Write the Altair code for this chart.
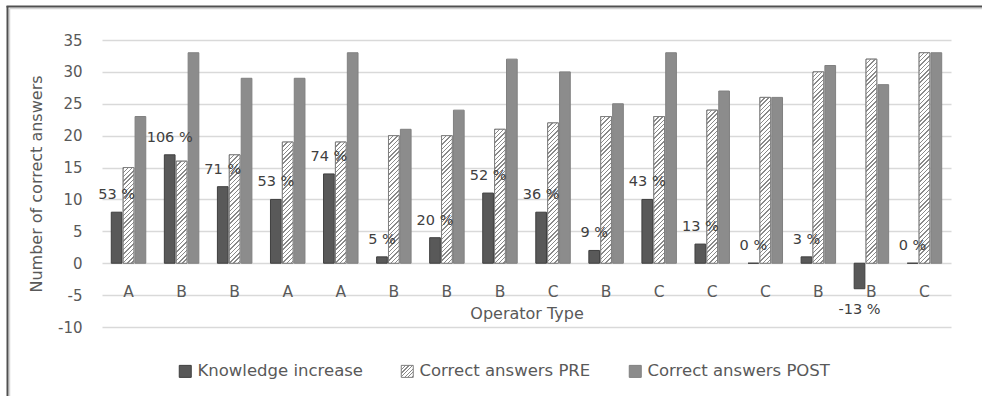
import json
import altair as alt
import pandas as pd

# Survey results per operator (one group of three bars per operator)
operator_types = ["A", "B", "B", "A", "A", "B", "B", "B", "C", "B", "C", "C", "C", "B", "B", "C"]
knowledge_increase = [8, 17, 12, 10, 14, 1, 4, 11, 8, 2, 10, 3, 0, 1, -4, 0]
answers_pre = [15, 16, 17, 19, 19, 20, 20, 21, 22, 23, 23, 24, 26, 30, 32, 33]
answers_post = [23, 33, 29, 29, 33, 21, 24, 32, 30, 25, 33, 27, 26, 31, 28, 33]
increase_pct = [53, 106, 71, 53, 74, 5, 20, 52, 36, 9, 43, 13, 0, 3, -13, 0]

SERIES = ["Knowledge increase", "Correct answers PRE", "Correct answers POST"]
FILLS = ["#595959", "#ffffff", "#8c8c8c"]
STROKES = ["#3f3f3f", "#7f7f7f", "#808080"]

FONT = "DejaVu Sans"
TEXT = "#595959"

# plot area geometry
W, H = 849, 287
Y_MIN, Y_MAX = -10, 35
PAD_INNER, PAD_OFF = 0.35, 0.1

n = len(operator_types)
step = W / n
group_w = step * (1 - PAD_INNER)
bar_w = group_w / (3 - PAD_OFF) * (1 - PAD_OFF)
px_per_unit = H / (Y_MAX - Y_MIN)


def hatch(w, h, period=4.3, line=1.4, ink="#8a8a8a", paper="#ffffff"):
    """Diagonal '/' hatching as a bounding-box linear gradient for a w x h rect."""
    span = w + h
    k = span / (w * w + h * h)
    stops = []
    i = 0
    while i * period < span:
        a = i * period / span
        b = min((i * period + line) / span, 1.0)
        c = min((i + 1) * period / span, 1.0)
        stops += [
            {"offset": round(a, 5), "color": ink},
            {"offset": round(b, 5), "color": ink},
            {"offset": round(b, 5), "color": paper},
            {"offset": round(c, 5), "color": paper},
        ]
        i += 1
    return {"gradient": "linear", "x1": 0, "y1": 0,
            "x2": round(w * k, 6), "y2": round(h * k, 6), "stops": stops}


rows = []
for i in range(n):
    for s, v in zip(SERIES, (knowledge_increase[i], answers_pre[i], answers_post[i])):
        rows.append({"idx": i, "series": s, "value": v})
bars_df = pd.DataFrame(rows)

pre_rows = [
    {"idx": i, "series": SERIES[1], "value": v, "grad": hatch(bar_w, v * px_per_unit)}
    for i, v in enumerate(answers_pre)
]

labels_df = pd.DataFrame({
    "idx": list(range(n)),
    "series": [SERIES[0]] * n,
    "value": knowledge_increase,
    "label": [f"{p} %" for p in increase_pct],
})

label_expr = "[" + ",".join(f"'{t}'" for t in operator_types) + "][datum.value]"

x_enc = alt.X(
    "idx:O",
    scale=alt.Scale(paddingInner=PAD_INNER, paddingOuter=PAD_INNER / 2),
    axis=alt.Axis(
        title="Operator Type", labelExpr=label_expr, labelAngle=0,
        domain=False, ticks=False, grid=False, offset=-43, labelPadding=0,
        labelFont=FONT, labelFontSize=15.5, labelColor=TEXT,
        titleFont=FONT, titleFontSize=16, titleColor=TEXT,
        titleFontWeight="normal", titlePadding=6,
    ),
)
xoff_enc = alt.XOffset("series:N", scale=alt.Scale(domain=SERIES, paddingInner=PAD_OFF))
y_enc = alt.Y(
    "value:Q",
    scale=alt.Scale(domain=[Y_MIN, Y_MAX], nice=False, zero=False),
    axis=alt.Axis(
        title="Number of correct answers", values=list(range(Y_MIN, Y_MAX + 1, 5)),
        labelExpr="'' + datum.value", labelOverlap=False,
        domain=False, ticks=False, grid=True, gridColor="#d9d9d9", gridWidth=1.5,
        labelPadding=20, labelFont=FONT, labelFontSize=15, labelColor=TEXT,
        titleFont=FONT, titleFontSize=16, titleColor=TEXT,
        titleFontWeight="normal", titlePadding=13,
    ),
)

# the PRE entry of the colour scale is a hatching gradient (used by the legend symbol)
legend_hatch = {"expr": json.dumps(hatch(12, 12, period=3.6, line=1.3))}

bars = alt.Chart(bars_df).mark_bar(strokeWidth=1).encode(
    x=x_enc,
    xOffset=xoff_enc,
    y=y_enc,
    fill=alt.Fill(
        "series:N",
        scale=alt.Scale(domain=SERIES, range=[FILLS[0], legend_hatch, FILLS[2]]),
        legend=alt.Legend(
            title=None, orient="none", direction="horizontal", columns=3,
            legendX=75, legendY=323, symbolType="square", symbolSize=144,
            symbolStrokeWidth=1, symbolStrokeColor="#595959", symbolOpacity=1,
            columnPadding=36, labelOffset=4,
            labelFont=FONT, labelFontSize=16.5, labelColor=TEXT, labelLimit=400,
        ),
    ),
    stroke=alt.Stroke("series:N", scale=alt.Scale(domain=SERIES, range=STROKES), legend=None),
)

pre_hatch = alt.Chart(alt.InlineData(values=pre_rows)).mark_bar(
    stroke=STROKES[1], strokeWidth=1
).encode(
    x=x_enc,
    xOffset=xoff_enc,
    y=y_enc,
    color=alt.Color("grad:N", scale=None, legend=None),
)

label_style = dict(font=FONT, fontSize=14.5, color="#404040", baseline="middle", align="center")
pos_labels = alt.Chart(labels_df).transform_filter("datum.value >= 0").mark_text(
    dy=-17, **label_style
).encode(x=x_enc, xOffset=xoff_enc, y=y_enc, text="label:N")
neg_labels = alt.Chart(labels_df).transform_filter("datum.value < 0").mark_text(
    dy=21, **label_style
).encode(x=x_enc, xOffset=xoff_enc, y=y_enc, text="label:N")

# outer frame of the figure (top and left edges)
one = pd.DataFrame({"k": [0]})
frame = alt.layer(
    alt.Chart(one).mark_rule(color="#d4d4d4", strokeWidth=1.5).encode(
        x=alt.value(-92.5), y=alt.value(-31.5), y2=alt.value(400)),
    alt.Chart(one).mark_rule(color="#d4d4d4", strokeWidth=1.5).encode(
        x=alt.value(-92.5), x2=alt.value(900), y=alt.value(-31.5)),
    alt.Chart(one).mark_rule(color="#505050", strokeWidth=2).encode(
        x=alt.value(-94.5), y=alt.value(-34), y2=alt.value(400)),
    alt.Chart(one).mark_rule(color="#505050", strokeWidth=2).encode(
        x=alt.value(-95.5), x2=alt.value(900), y=alt.value(-33.5)),
)

chart = alt.layer(bars, pre_hatch, pos_labels, neg_labels, frame).properties(
    width=W, height=H,
    padding={"left": 102, "top": 40, "right": 31, "bottom": 69},
    autosize=alt.AutoSizeParams(type="none"),
).configure(background="#ffffff").configure_view(stroke=None)

chart.save("out.html", embed_options={"renderer": "svg", "actions": False})
